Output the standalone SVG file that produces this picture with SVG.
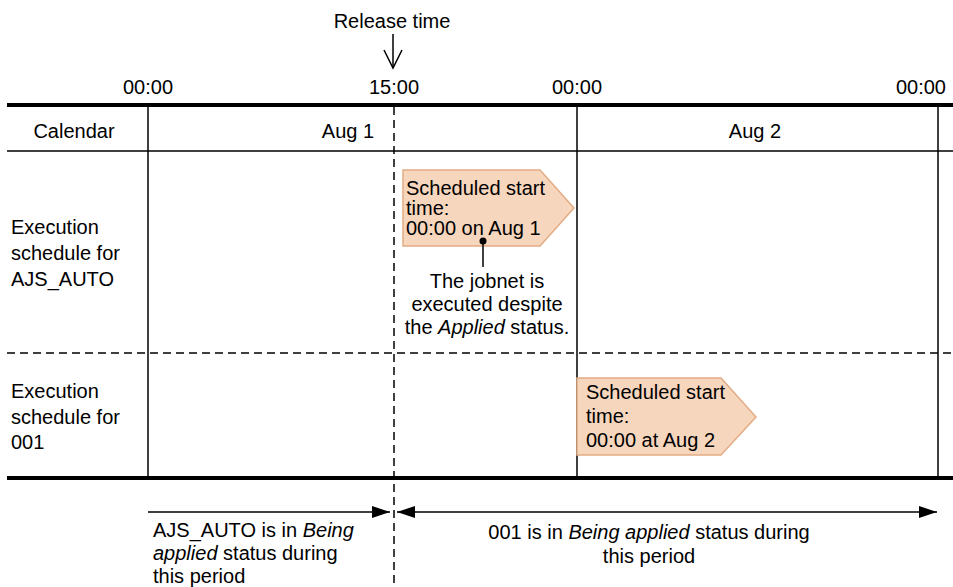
<svg xmlns="http://www.w3.org/2000/svg" width="953" height="587" viewBox="0 0 953 587">
<style>
text{font-family:"Liberation Sans",Arial,sans-serif;font-size:20px;fill:#000}
.c{text-anchor:middle}
.it{font-style:italic}
.thick{stroke:#000;stroke-width:4;fill:none}
.thin{stroke:#000;stroke-width:1.5;fill:none}
.dash{stroke:#000;stroke-width:1.5;fill:none;stroke-dasharray:8,5}
.pent{fill:#f7d6be;stroke:#e2ac84;stroke-width:1.5}
</style>
<defs>
<marker id="ah" viewBox="0 0 18 12" refX="18" refY="6" markerWidth="18" markerHeight="12" markerUnits="userSpaceOnUse" orient="auto-start-reverse">
<path d="M0,0 L18,6 L0,12 Z" fill="#000"/>
</marker>
</defs>
<g id="grid">
<line class="thick" x1="7" y1="105" x2="953" y2="105"/>
<line class="thick" x1="7" y1="478" x2="953" y2="478"/>
<line class="thin" x1="7" y1="151" x2="953" y2="151"/>
<line class="dash" x1="7" y1="353" x2="953" y2="353"/>
<line class="thin" x1="148" y1="105" x2="148" y2="478"/>
<line class="thin" x1="577" y1="105" x2="577" y2="478"/>
<line class="thin" x1="938" y1="105" x2="938" y2="478"/>
<line class="dash" x1="394" y1="107" x2="394" y2="585"/>
</g>
<g id="labels">
<text x="392" y="28" class="c">Release time</text>
<text x="148" y="94" class="c">00:00</text>
<text x="394" y="94" class="c">15:00</text>
<text x="577" y="94" class="c">00:00</text>
<text x="946" y="94" text-anchor="end">00:00</text>
<text x="74" y="138" class="c">Calendar</text>
<text x="348" y="138" class="c">Aug 1</text>
<text x="755" y="138" class="c">Aug 2</text>
<text x="11" y="234">Execution</text>
<text x="11" y="260">schedule for</text>
<text x="11" y="286">AJS_AUTO</text>
<text x="11" y="398">Execution</text>
<text x="11" y="424">schedule for</text>
<text x="11" y="449">001</text>
</g>
<g id="release-arrow">
<line class="thin" x1="393" y1="34" x2="393" y2="68"/>
<polyline class="thin" points="384,50 393,68 402,50"/>
</g>
<g id="sched-ajs">
<polygon class="pent" points="403,170 540,170 574,208 540,246 403,246"/>
<text x="406" y="195">Scheduled start</text>
<text x="406" y="215">time:</text>
<text x="406" y="235">00:00 on Aug 1</text>
</g>
<g id="callout">
<line class="thin" x1="483" y1="241" x2="483" y2="267"/>
<circle cx="483" cy="241" r="3.5" fill="#000"/>
<text x="487" y="288" class="c">The jobnet is</text>
<text x="487" y="311" class="c">executed despite</text>
<text x="487" y="334" class="c">the <tspan class="it">Applied</tspan> status.</text>
</g>
<g id="sched-001">
<polygon class="pent" points="577,378 721,378 756,417 721,455 577,455"/>
<text x="586" y="399">Scheduled start</text>
<text x="586" y="423">time:</text>
<text x="586" y="447">00:00 at Aug 2</text>
</g>
<g id="connectors">
<line class="thin" x1="148" y1="512" x2="390" y2="512" marker-end="url(#ah)"/>
<line class="thin" x1="397" y1="512" x2="937" y2="512" marker-start="url(#ah)" marker-end="url(#ah)"/>
</g>
<g id="periods">
<text x="153" y="537">AJS_AUTO is in <tspan class="it">Being</tspan></text>
<text x="153" y="560"><tspan class="it">applied</tspan> status during</text>
<text x="153" y="583">this period</text>
<text x="649" y="539" class="c">001 is in <tspan class="it">Being applied</tspan> status during</text>
<text x="649" y="563" class="c">this period</text>
</g>
</svg>
